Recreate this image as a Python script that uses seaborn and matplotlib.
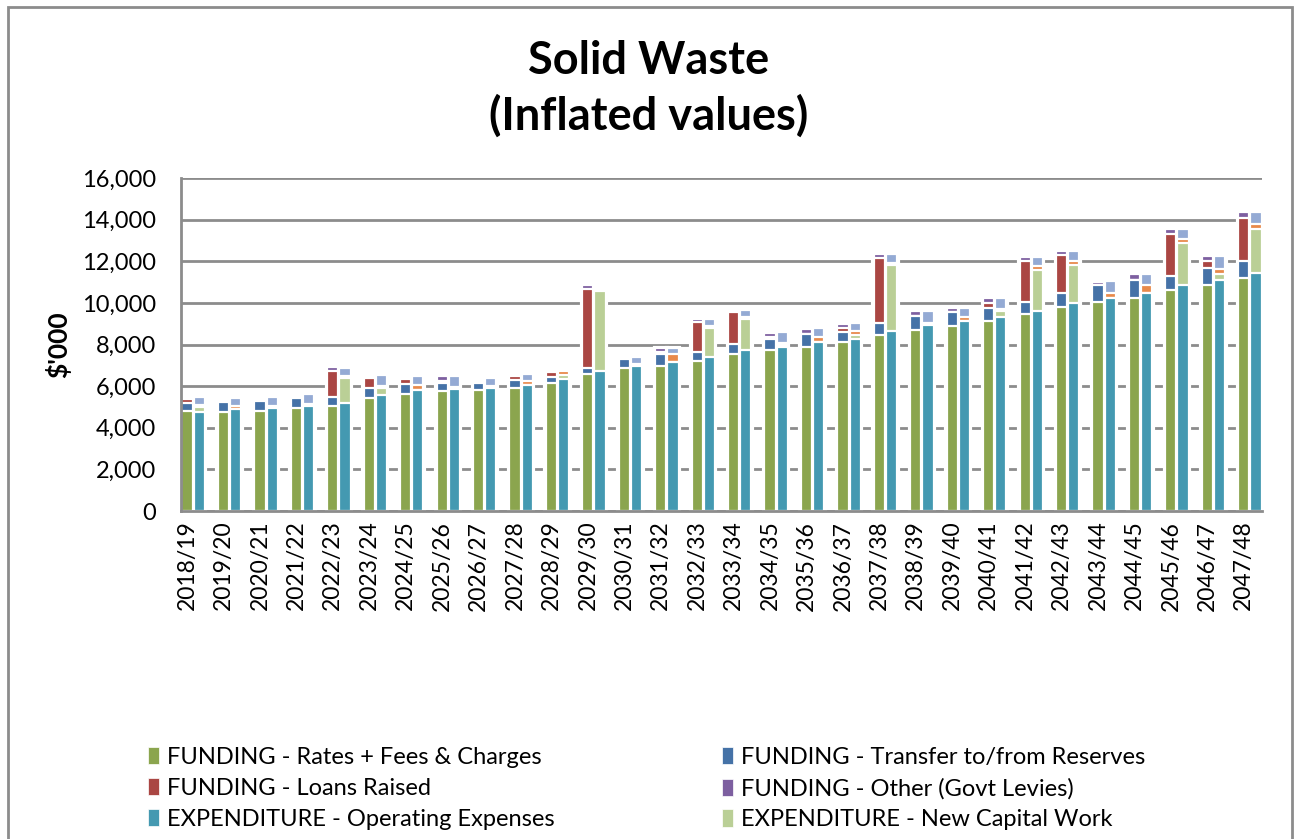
import numpy as np
import pandas as pd
import matplotlib
matplotlib.use("Agg")
import matplotlib.pyplot as plt
import seaborn as sns
from matplotlib.patches import Patch, Rectangle
from matplotlib.ticker import FuncFormatter

# ---------------- data ($'000) ----------------
years = ["2018/19", "2019/20", "2020/21", "2021/22", "2022/23", "2023/24", "2024/25",
         "2025/26", "2026/27", "2027/28", "2028/29", "2029/30", "2030/31", "2031/32",
         "2032/33", "2033/34", "2034/35", "2035/36", "2036/37", "2037/38", "2038/39",
         "2039/40", "2040/41", "2041/42", "2042/43", "2043/44", "2044/45", "2045/46",
         "2046/47", "2047/48"]

fund_rates = [4800, 4740, 4800, 4930, 5060, 5430, 5620, 5750, 5810, 5920,
              6160, 6600, 6850, 6970, 7220, 7530, 7720, 7900, 8120, 8460,
              8700, 8890, 9150, 9450, 9820, 10040, 10240, 10600, 10840, 11210]
fund_reserves = [370, 480, 500, 510, 410, 460, 460, 400, 350, 370,
                 260, 260, 430, 560, 430, 500, 540, 620, 460, 560,
                 670, 660, 610, 590, 660, 800, 850, 670, 850, 790]
fund_loans = [200, 0, 0, 0, 1250, 510, 260, 120, 0, 180,
              240, 3800, 0, 100, 1410, 1540, 120, 0, 220, 3130,
              0, 0, 240, 1990, 1840, 0, 0, 2020, 320, 2100]
fund_other = [0, 0, 0, 0, 180, 0, 0, 200, 0, 0,
              0, 190, 0, 200, 180, 0, 180, 220, 190, 180,
              220, 180, 240, 180, 190, 180, 300, 260, 220, 260]

exp_opex = [4750, 4880, 4945, 5060, 5170, 5555, 5810, 5875, 5920, 6035,
            6355, 6725, 6965, 7160, 7400, 7720, 7895, 8120, 8265, 8650,
            8940, 9130, 9320, 9610, 9995, 10220, 10475, 10860, 11085, 11455]
exp_newcap = [250, 0, 0, 0, 1230, 350, 0, 0, 0, 0,
              190, 3865, 0, 0, 1410, 1520, 90, 0, 210, 3170,
              0, 0, 305, 1990, 1840, 0, 0, 2000, 320, 2085]
exp_renewals = [80, 150, 80, 80, 80, 80, 225, 80, 80, 190,
                180, 0, 80, 370, 80, 80, 80, 240, 175, 80,
                80, 190, 80, 190, 195, 240, 370, 210, 240, 240]
exp_loanrepay = [390, 380, 465, 480, 405, 530, 433, 513, 404, 355,
                 0, 0, 353, 300, 351, 354, 519, 432, 367, 435,
                 590, 418, 530, 417, 481, 577, 560, 483, 610, 575]

fund_series = [
    ("FUNDING - Rates + Fees & Charges", fund_rates, "#8BA54E"),
    ("FUNDING - Transfer to/from Reserves", fund_reserves, "#4572A7"),
    ("FUNDING - Loans Raised", fund_loans, "#AA4643"),
    ("FUNDING - Other (Govt Levies)", fund_other, "#7D5FA0"),
]
exp_series = [
    ("EXPENDITURE - Operating Expenses", exp_opex, "#4499B1"),
    ("EXPENDITURE - New Capital Work", exp_newcap, "#BACF96"),
    ("EXPENDITURE - Renewals", exp_renewals, "#E8894A"),
    ("EXPENDITURE - Loan Repayments", exp_loanrepay, "#94AAD4"),
]

# ---------------- figure ----------------
sns.set_theme(style="white")
plt.rcParams['font.family'] = ['Lato', 'DejaVu Sans']
plt.rcParams['text.color'] = 'black'

W, H = 1297, 839
fig = plt.figure(figsize=(W / 100, H / 100), dpi=100)
ax = fig.add_axes([181 / W, 1 - 511 / H, (1262 - 181) / W, (511 - 178) / H])

n = len(years)
slots = [f"s{k:02d}" for k in range(3 * n - 1)]
fund_slots = [slots[3 * i] for i in range(n)]
exp_slots = [slots[3 * i + 1] for i in range(n)]

fund_total = np.sum([s[1] for s in fund_series], axis=0)
exp_total = np.sum([s[1] for s in exp_series], axis=0)

# white "glow" behind each bar
back = pd.DataFrame({"slot": fund_slots + exp_slots,
                     "value": list(fund_total) + list(exp_total)})
sns.barplot(data=back, x="slot", y="value", order=slots, color="white",
            saturation=1, width=1.0, errorbar=None, ax=ax,
            edgecolor="white", linewidth=3)


def draw_stack(series, slot_names):
    cums = np.cumsum([s[1] for s in series], axis=0)
    for k in range(len(series) - 1, -1, -1):
        df = pd.DataFrame({"slot": slot_names, "value": cums[k]})
        sns.barplot(data=df, x="slot", y="value", order=slots, color=series[k][2],
                    saturation=1, width=0.92, errorbar=None, ax=ax,
                    edgecolor="white", linewidth=1.6)


draw_stack(fund_series, fund_slots)
draw_stack(exp_series, exp_slots)

# axes styling
ax.set_xlim(-0.5, len(slots) - 0.5)
ax.set_ylim(0, 16000)
ax.set_yticks(range(0, 16001, 2000))
ax.yaxis.set_major_formatter(FuncFormatter(lambda v, p: f"{int(v):,}"))
ax.set_xticks([3 * i for i in range(n)])
ax.set_xticklabels(years, rotation=90, fontsize=16.5, color="#000000")
ax.tick_params(axis="y", labelsize=17, length=0, pad=18, labelcolor="#000000")
ax.tick_params(axis="x", length=0, pad=7)
ax.set_xlabel("")
ax.set_ylabel("")
ax.yaxis.grid(True, color="#8C8C8C", linewidth=2)
ax.xaxis.grid(False)
ax.set_axisbelow(True)
for side in ["top", "right"]:
    ax.spines[side].set_visible(False)
for side in ["left", "bottom"]:
    ax.spines[side].set_color("#8C8C8C")
    ax.spines[side].set_linewidth(2)

# titles and labels
fig.text(649 / W, 1 - 61 / H, "Solid Waste", ha="center", va="center",
         fontsize=32.5, fontweight="bold", color="black")
fig.text(649 / W, 1 - 116 / H, "(Inflated values)", ha="center", va="center",
         fontsize=32.5, fontweight="bold", color="black")
fig.text(58 / W, 1 - 345 / H, "\\$'000", rotation=90, ha="center", va="center",
         fontsize=19, fontweight="bold", color="black")

# legend (only the first three rows are visible in the original)
order = [0, 2, 4, 1, 3, 5]
all_series = fund_series + exp_series
handles = [Patch(facecolor=all_series[i][2], edgecolor="white", linewidth=0.5) for i in order]
labels = [all_series[i][0] for i in order]
fig.legend(handles, labels, ncol=2, loc="upper left",
           bbox_to_anchor=(148 / W, 1 - 747 / H), frameon=False, fontsize=17,
           handlelength=0.45, handleheight=0.75, handletextpad=0.35,
           columnspacing=7.1, labelspacing=0.42, borderaxespad=0, borderpad=0)

# chart-area frame (bottom edge lies outside the picture)
fig.patches.append(Rectangle((8 / W, -0.2), (1292 - 8) / W, 1.2 - 7 / H,
                             transform=fig.transFigure, fill=False,
                             edgecolor="#8C8C8C", linewidth=2, clip_on=False))

fig.savefig("out.png", dpi=100)
